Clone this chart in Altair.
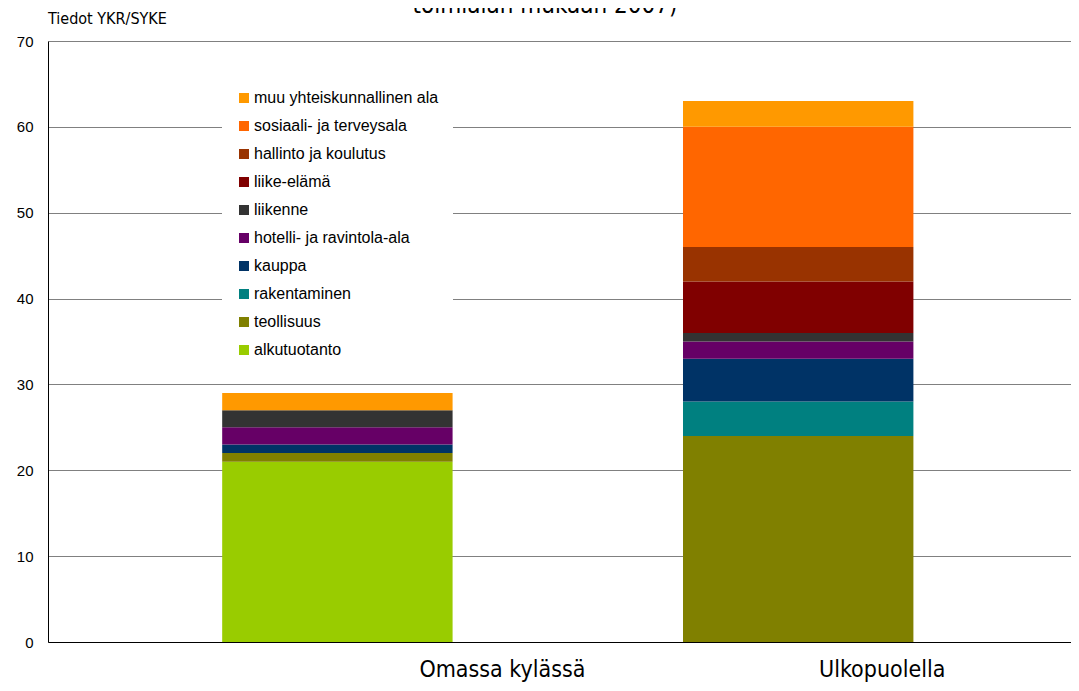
import altair as alt
import pandas as pd

groups = ["Omassa kylässä", "Ulkopuolella"]
sectors = [
    "alkutuotanto",
    "teollisuus",
    "rakentaminen",
    "kauppa",
    "hotelli- ja ravintola-ala",
    "liikenne",
    "liike-elämä",
    "hallinto ja koulutus",
    "sosiaali- ja terveysala",
    "muu yhteiskunnallinen ala",
]
colors = ["#99cc00", "#808000", "#008080", "#003366", "#660066",
          "#333333", "#800000", "#993300", "#ff6600", "#ff9900"]
omassa = [21, 1, 0, 1, 2, 2, 0, 0, 0, 2]
ulkopuolella = [0, 24, 4, 5, 2, 1, 6, 4, 14, 3]
y_ticks = [0, 10, 20, 30, 40, 50, 60, 70]
source_note = "Tiedot YKR/SYKE"
cut_title = "toimialan mukaan 2007)"

rows = []
for g, vals in zip(groups, [omassa, ulkopuolella]):
    for i, (s, v) in enumerate(zip(sectors, vals)):
        rows.append({"ryhmä": g, "toimiala": s, "arvo": v, "idx": i})
df = pd.DataFrame(rows)

LABEL_FONT = "DejaVu Sans Condensed, Liberation Sans Narrow, sans-serif"

bars = alt.Chart(df).mark_bar().encode(
    x=alt.X(
        "ryhmä:N",
        sort=groups,
        scale=alt.Scale(paddingInner=0.5, paddingOuter=0.36, align=0.525),
        axis=alt.Axis(
            title=None,
            labelAngle=0,
            ticks=False,
            domainColor="black",
            domainWidth=1,
            labelFont=LABEL_FONT,
            labelFontSize=23,
            labelColor="black",
            labelPadding=34,
            labelBaseline="alphabetic",
            labelOffset={"condition": {"test": "datum.value == 'Omassa kylässä'", "value": 165}, "value": 84},
        ),
    ),
    y=alt.Y(
        "arvo:Q",
        stack="zero",
        scale=alt.Scale(domain=[0, 70], nice=False),
        axis=alt.Axis(
            title=None,
            values=y_ticks,
            ticks=False,
            domainColor="black",
            domainWidth=1,
            gridColor="#808080",
            gridWidth=1,
            labelFont="Liberation Sans, Arial, sans-serif",
            labelFontSize=15,
            labelColor="black",
            labelPadding=15,
        ),
    ),
    color=alt.Color(
        "toimiala:N",
        scale=alt.Scale(domain=sectors[::-1], range=colors[::-1]),
        legend=alt.Legend(
            title=None,
            orient="none",
            legendX=174,
            legendY=35,
            fillColor="white",
            padding=14,
            symbolType="square",
            symbolSize=100,
            symbolStrokeWidth=0,
            labelFont="Liberation Sans, Arial, sans-serif",
            labelFontSize=16,
            labelColor="black",
            labelLimit=300,
            labelOffset=2,
            rowPadding=12,
        ),
    ),
    order=alt.Order("idx:Q"),
)

note = alt.Chart(pd.DataFrame({"t": [source_note]})).mark_text(
    align="left", baseline="alphabetic", font=LABEL_FONT, fontSize=16, color="black"
).encode(text="t:N", x=alt.value(0), y=alt.value(-17))

title_cut = alt.Chart(pd.DataFrame({"t": [cut_title]})).mark_text(
    align="center", baseline="alphabetic", font=LABEL_FONT, fontSize=24, color="black"
).encode(text="t:N", x=alt.value(497), y=alt.value(-28))

chart = alt.layer(bars, note, title_cut).properties(
    width=1023,
    height=601,
    autosize=alt.AutoSizeParams(type="none"),
    padding={"left": 40, "top": 33, "right": 0, "bottom": 41},
).configure_view(stroke=None)

chart.save("out.html", embed_options={"renderer": "svg", "actions": False})
